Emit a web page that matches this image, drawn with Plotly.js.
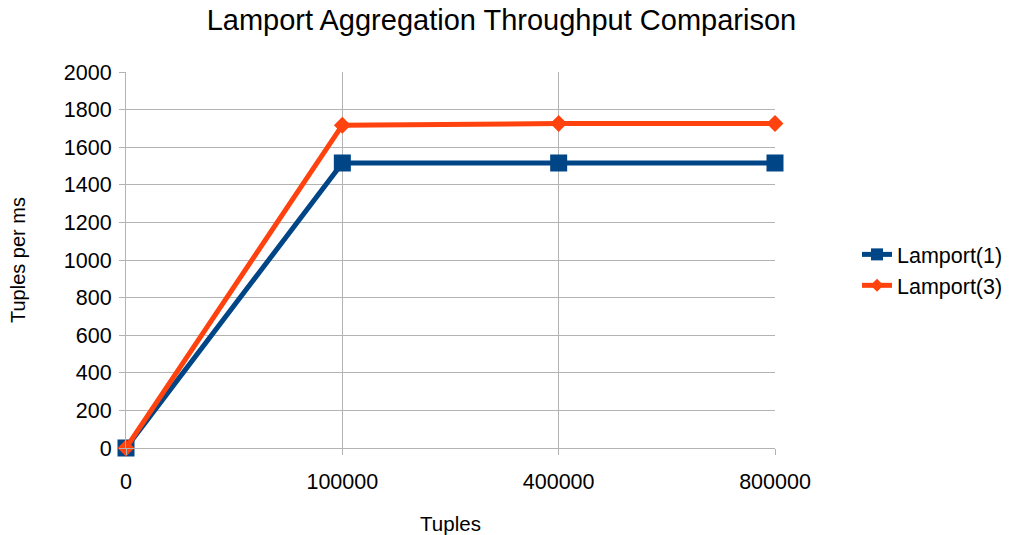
<!DOCTYPE html>
<html>
<head>
<meta charset="utf-8">
<script src="https://cdn.plot.ly/plotly-3.0.1.min.js"></script>
<style>html,body{margin:0;padding:0;background:#fff;}#chart{width:1013px;height:535px;}</style>
</head>
<body>
<div id="chart"></div>
<script>
const categories = ["0", "100000", "400000", "800000"];
const lamport1 = [0, 1516, 1516, 1516];
const lamport3 = [0, 1717, 1726, 1726];
const seriesNames = ["Lamport(1)", "Lamport(3)"];
const seriesColors = ["#004586", "#ff420e"];

const traces = [
  {
    x: categories, y: lamport1, name: seriesNames[0], type: "scatter", mode: "lines+markers",
    line: {color: seriesColors[0], width: 5},
    marker: {symbol: "square", size: 17, color: seriesColors[0]},
    cliponaxis: false, showlegend: false
  },
  {
    x: categories, y: lamport3, name: seriesNames[1], type: "scatter", mode: "lines+markers",
    line: {color: seriesColors[1], width: 5},
    marker: {symbol: "diamond", size: 13, color: seriesColors[1]},
    cliponaxis: false, showlegend: false
  },
  {
    x: [null], y: [null], name: seriesNames[0], type: "scatter", mode: "lines+markers",
    line: {color: seriesColors[0], width: 5},
    marker: {symbol: "square", size: 12, color: seriesColors[0]}
  },
  {
    x: [null], y: [null], name: seriesNames[1], type: "scatter", mode: "lines+markers",
    line: {color: seriesColors[1], width: 5},
    marker: {symbol: "diamond", size: 10, color: seriesColors[1]}
  }
];

const layout = {
  width: 1013, height: 535,
  margin: {l: 126, r: 238, t: 72, b: 87},
  paper_bgcolor: "#fff", plot_bgcolor: "#fff",
  font: {family: "Liberation Sans, Arial, sans-serif", color: "#000", size: 21},
  title: {text: "Lamport Aggregation Throughput Comparison", font: {size: 29}, x: 0.495, xanchor: "center", y: 0.962, yanchor: "middle"},
  xaxis: {
    type: "category", range: [0, 3],
    showgrid: true, gridcolor: "#b3b3b3", gridwidth: 1,
    ticks: "outside", ticklen: 6, tickcolor: "#b3b3b3",
    showline: true, linecolor: "#b3b3b3", zeroline: false,
    tickfont: {size: 21.5}, ticklabelstandoff: 8,
    title: {text: "Tuples", font: {size: 20.5}, standoff: 23}
  },
  yaxis: {
    range: [0, 2000], dtick: 200,
    showgrid: true, gridcolor: "#b3b3b3", gridwidth: 1,
    ticks: "outside", ticklen: 6, tickcolor: "#b3b3b3",
    showline: true, linecolor: "#b3b3b3", zeroline: false,
    tickfont: {size: 21.5}, ticklabelstandoff: 3,
    title: {text: "Tuples per ms", font: {size: 20}, standoff: 32}
  },
  showlegend: true,
  legend: {xref: "container", yref: "container", x: 0.846, xanchor: "left", y: 0.4955, yanchor: "middle", font: {size: 21.5}, tracegroupgap: 0}
};

Plotly.newPlot("chart", traces, layout, {displayModeBar: false, staticPlot: true});
</script>
</body>
</html>
